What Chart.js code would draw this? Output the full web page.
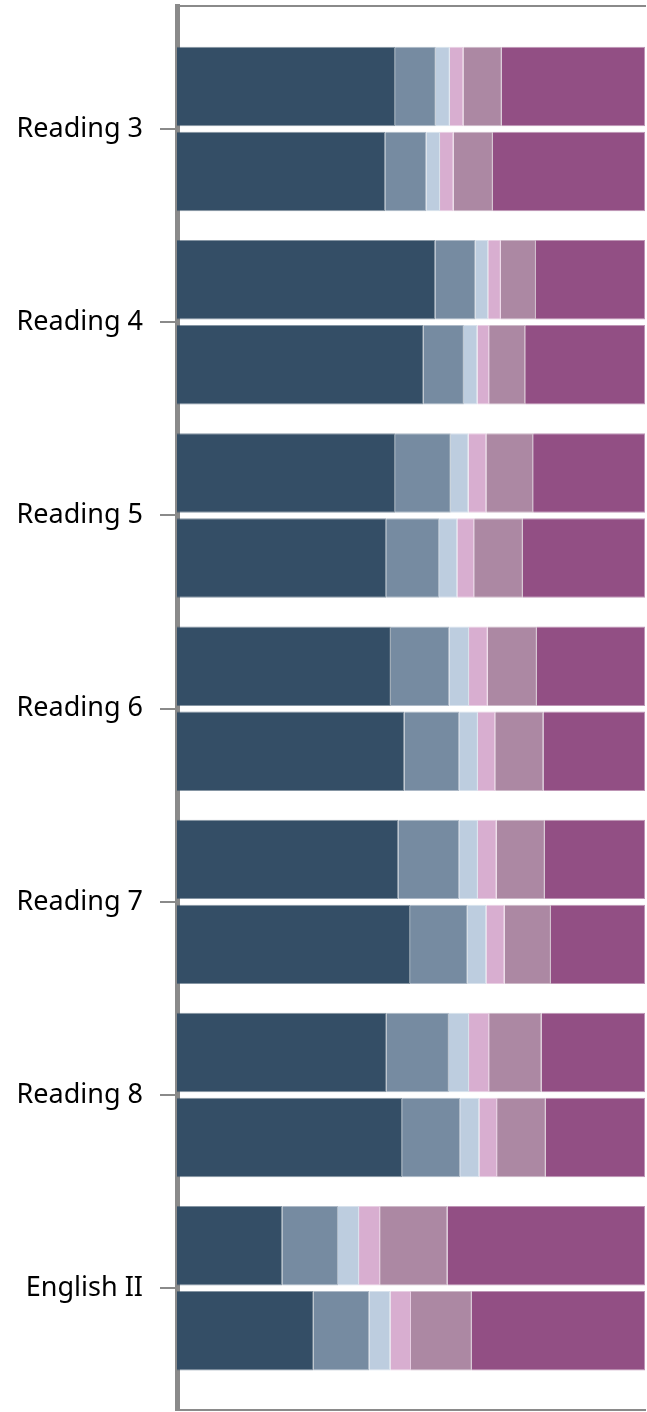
<!DOCTYPE html>
<html>
<head>
<meta charset="utf-8">
<script src="https://cdn.jsdelivr.net/npm/chart.js"></script>
<style>
  html, body { margin: 0; padding: 0; background: #fff; }
  #mChart1 { display: block; }
</style>
</head>
<body>
<canvas id="mChart1" width="647" height="1412"></canvas>
<script>
// subjects down the left
var categories = ["Reading 3", "Reading 4", "Reading 5", "Reading 6", "Reading 7", "Reading 8", "English II"];

// upper bar of each pair (percent per band)
var upper1 = [46.6, 55.2, 46.6, 45.7, 47.3, 44.8, 22.5];
var upper2 = [8.7, 8.6, 11.9, 12.5, 13.0, 13.3, 11.9];
var upper3 = [3.0, 2.7, 3.8, 4.2, 4.0, 4.3, 4.5];
var upper4 = [2.9, 2.7, 3.8, 4.0, 4.0, 4.3, 4.5];
var upper5 = [8.2, 7.5, 10.0, 10.5, 10.3, 11.2, 14.4];
var upper6 = [30.6, 23.3, 23.9, 23.1, 21.4, 22.1, 42.2];

// lower bar of each pair
var lower1 = [44.5, 52.7, 44.7, 48.6, 49.8, 48.1, 29.2];
var lower2 = [8.8, 8.6, 11.3, 11.7, 12.3, 12.4, 11.9];
var lower3 = [2.9, 2.9, 3.9, 4.0, 4.0, 4.1, 4.5];
var lower4 = [2.9, 2.5, 3.6, 3.7, 3.9, 3.8, 4.4];
var lower5 = [8.4, 7.7, 10.4, 10.3, 9.9, 10.4, 13.0];
var lower6 = [32.5, 25.6, 26.1, 21.7, 20.1, 21.2, 37.0];

var colours = ["#344e66", "#768ba1", "#bdcddf", "#d8aed0", "#ac88a3", "#924f84"];
var edges = ["rgba(52,78,102,0.6)", "rgba(118,139,161,0.6)", "rgba(189,205,223,0.6)", "rgba(216,174,208,0.6)", "rgba(172,136,163,0.6)", "rgba(146,79,132,0.6)"];

// turn a series into {x, y} points, y = row index
function rows(vals) {
    return vals.map(function(v, i) { return { x: v, y: i }; });
}

function band(vals, n, stack) {
    return {
        data: rows(vals),
        stack: stack,
        backgroundColor: colours[n],
        borderColor: edges[n],
        borderWidth: 1,
        categoryPercentage: 0.88,
        barPercentage: 0.935
    };
}

var datasets = [
    band(upper1, 0, "a"), band(upper2, 1, "a"), band(upper3, 2, "a"),
    band(upper4, 3, "a"), band(upper5, 4, "a"), band(upper6, 5, "a"),
    band(lower1, 0, "b"), band(lower2, 1, "b"), band(lower3, 2, "b"),
    band(lower4, 3, "b"), band(lower5, 4, "b"), band(lower6, 5, "b")
];

var axisGrey = "#8a8a8a";

var ctx = document.getElementById('mChart1');
var myBarChart = new Chart(ctx, {
    type: 'bar',
    data: { datasets: datasets },
    options: {
        indexAxis: 'y',
        responsive: false,
        animation: false,
        layout: { padding: { top: 6, bottom: 2, right: 2, left: 0 } },
        plugins: {
            legend: { display: false },
            tooltip: { enabled: false }
        },
        scales: {
            x: {
                type: 'linear',
                position: 'bottom',
                stacked: true,
                min: 0,
                max: 100,
                ticks: { display: false },
                grid: { display: false, drawTicks: false },
                border: { display: true, color: axisGrey, width: 2 }
            },
            xTop: {
                type: 'linear',
                position: 'top',
                min: 0,
                max: 100,
                ticks: { display: false },
                grid: { display: false, drawTicks: false },
                border: { display: true, color: axisGrey, width: 2 }
            },
            y: {
                type: 'linear',
                reverse: true,
                offset: false,
                min: -0.637,
                max: 6.63,
                afterBuildTicks: function(scale) {
                    scale.ticks = categories.map(function(c, i) { return { value: i }; });
                },
                afterFit: function(scale) {
                    scale.width = 177;
                    scale.paddingTop = 0;
                    scale.paddingBottom = 0;
                },
                ticks: {
                    autoSkip: false,
                    padding: 17,
                    color: "#000",
                    font: { family: "Noto Sans", size: 27 },
                    callback: function(v) { return categories[v]; }
                },
                grid: {
                    offset: false,
                    drawOnChartArea: false,
                    drawTicks: true,
                    tickLength: 17,
                    color: axisGrey,
                    lineWidth: 2
                },
                border: { display: true, color: axisGrey, width: 5 }
            }
        }
    }
});
</script>
</body>
</html>
